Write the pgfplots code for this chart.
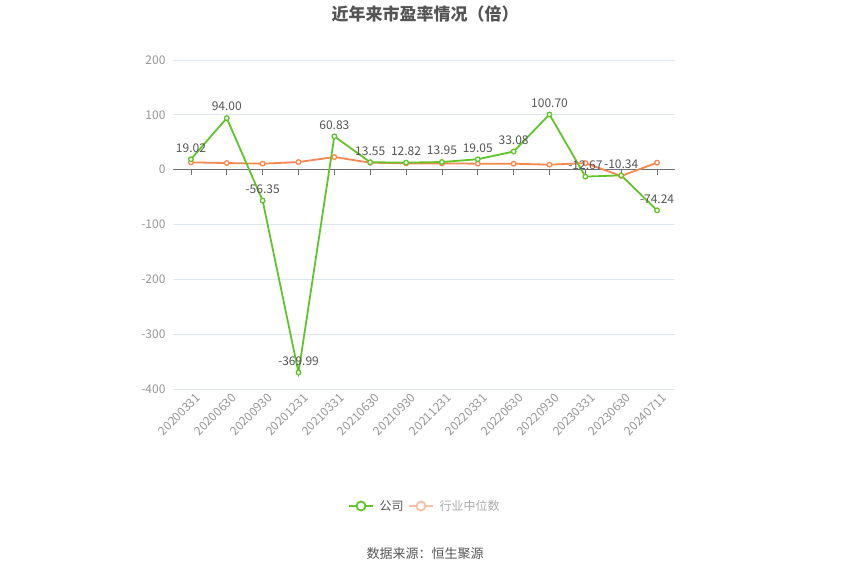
\documentclass[border=0pt]{standalone}
\usepackage{pgfplots}
\pgfplotsset{compat=1.18}
\usepackage{fontspec}
\setmainfont{Noto Sans CJK SC}
\definecolor{cgreen}{RGB}{98,196,43}
\definecolor{corange}{RGB}{245,135,80}
\definecolor{paleorange}{RGB}{250,190,165}
\definecolor{tickgray}{RGB}{150,150,150}
\definecolor{labgray}{RGB}{85,85,85}
\definecolor{gridc}{RGB}{224,230,241}
\definecolor{axisc}{RGB}{110,112,121}
\begin{document}
\begin{tikzpicture}[x=1pt,y=1pt]
\path (0,0) rectangle (850,575);
\node[font=\fontsize{17}{20}\selectfont\bfseries, text=labgray] at (425,561) {近年来市盈率情况（倍）};
\begin{axis}[
  at={(173pt,186pt)}, anchor=south west,
  width=502pt, height=329pt, scale only axis,
  xmin=-0.5, xmax=13.5, ymin=-400, ymax=200,
  ytick={-400,-300,-200,-100,0,100,200},
  xtick={0,...,13},
  xticklabels={20200331,20200630,20200930,20201231,20210331,20210630,20210930,20211231,20220331,20220630,20220930,20230331,20230630,20240711},
  axis line style={draw=none},
  major tick length=0pt,
  ymajorgrids, grid style={gridc, line width=0.8pt},
  /pgf/number format/assume math mode=true,
  y tick label style={font=\fontsize{12}{14}\selectfont, text=tickgray, xshift=-4pt},
  x tick label style={font=\fontsize{12}{14}\selectfont, text=tickgray, rotate=45, anchor=north east, xshift=4pt, yshift=-2pt},
  clip=false,
]
\draw[axisc, line width=0.8pt] (axis cs:-0.5,0) -- (axis cs:13.5,0);
\pgfplotsinvokeforeach{0,...,13}{\draw[axisc, line width=0.8pt] (axis cs:#1,0) -- ++(0pt,-5pt);}
\addplot[corange, line width=1.8pt, mark=*, mark size=2.3pt, mark options={fill=white, line width=1.3pt}]
  coordinates {(0,13.3)(1,12.1)(2,10.9)(3,13.9)(4,23)(5,12.7)(6,11.5)(7,11.5)(8,10.9)(9,10.9)(10,9.1)(11,12)(12,-11.5)(13,12.7)};
\addplot[cgreen, line width=1.8pt, mark=*, mark size=2.3pt, mark options={fill=white, line width=1.3pt},
  nodes near coords={\pgfmathprintnumber[fixed,precision=2,fixed zerofill]{\pgfplotspointmeta}},
  every node near coord/.style={font=\fontsize{12}{14}\selectfont, text=labgray, anchor=south, yshift=3pt}]
  coordinates {(0,19.02)(1,94.00)(2,-56.35)(3,-369.99)(4,60.83)(5,13.55)(6,12.82)(7,13.95)(8,19.05)(9,33.08)(10,100.70)(11,-12.67)(12,-10.34)(13,-74.24)};
\end{axis}
\draw[cgreen, line width=1.8pt] (349,69) -- (373,69);
\draw[cgreen, line width=1.8pt, fill=white] (361,69) circle (4.5);
\node[anchor=west, font=\fontsize{12}{14}\selectfont, text=labgray] at (376,69) {公司};
\draw[paleorange, line width=1.8pt] (409,69) -- (433,69);
\draw[paleorange, line width=1.8pt, fill=white] (421,69) circle (4.5);
\node[anchor=west, font=\fontsize{12}{14}\selectfont, text=tickgray!80] at (436,69) {行业中位数};
\node[font=\fontsize{13}{15}\selectfont, text=labgray] at (425,21) {数据来源：恒生聚源};
\end{tikzpicture}
\end{document}
